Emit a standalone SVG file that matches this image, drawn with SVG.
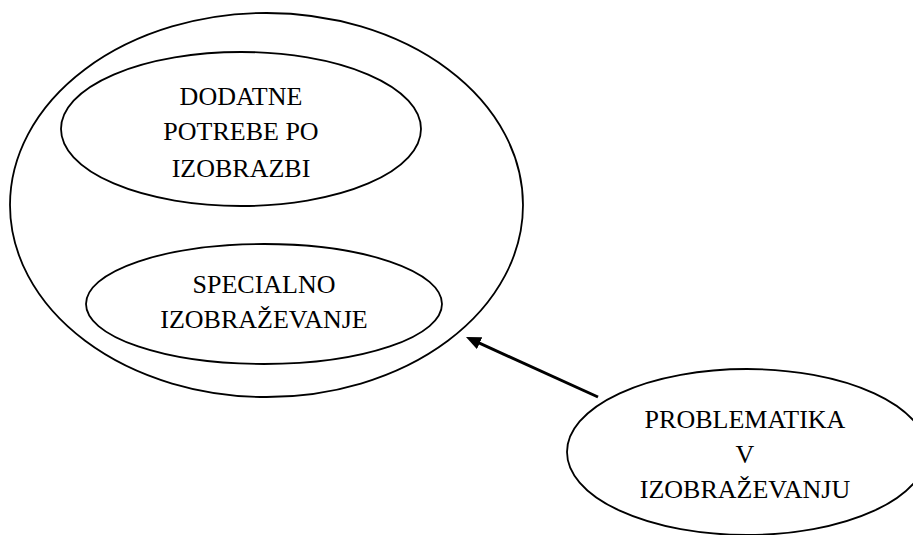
<svg xmlns="http://www.w3.org/2000/svg" width="913" height="535" viewBox="0 0 913 535">
<style>
.node ellipse{fill:none;stroke:#000;stroke-width:1.8}
text{font-family:"Liberation Serif","Times New Roman",serif;font-size:26px;fill:#000;text-anchor:middle}
.conn line{stroke:#000;stroke-width:3}
</style>
<defs>
<marker id="ah" markerUnits="userSpaceOnUse" markerWidth="16" markerHeight="14" refX="2" refY="6.5" orient="auto">
<path d="M0,0 L15,6.5 L0,13 z" fill="#000"/>
</marker>
</defs>
<rect width="913" height="535" fill="#fff"/>
<g id="outer" class="node">
<ellipse cx="266.5" cy="205" rx="256.5" ry="192"/>
</g>
<g id="dodatne" class="node">
<ellipse cx="241" cy="129" rx="180" ry="77"/>
<text x="241" y="105">DODATNE</text>
<text x="241" y="140">POTREBE PO</text>
<text x="241" y="177">IZOBRAZBI</text>
</g>
<g id="specialno" class="node">
<ellipse cx="264" cy="304" rx="178" ry="60"/>
<text x="264" y="293">SPECIALNO</text>
<text x="264" y="328">IZOBRAŽEVANJE</text>
</g>
<g id="problematika" class="node">
<ellipse cx="747" cy="452" rx="180" ry="83"/>
<text x="745" y="428">PROBLEMATIKA</text>
<text x="745" y="463">V</text>
<text x="745" y="498">IZOBRAŽEVANJU</text>
</g>
<g id="connectors" class="conn">
<line x1="598" y1="397" x2="477.8" y2="342.4" marker-end="url(#ah)"/>
</g>
</svg>
